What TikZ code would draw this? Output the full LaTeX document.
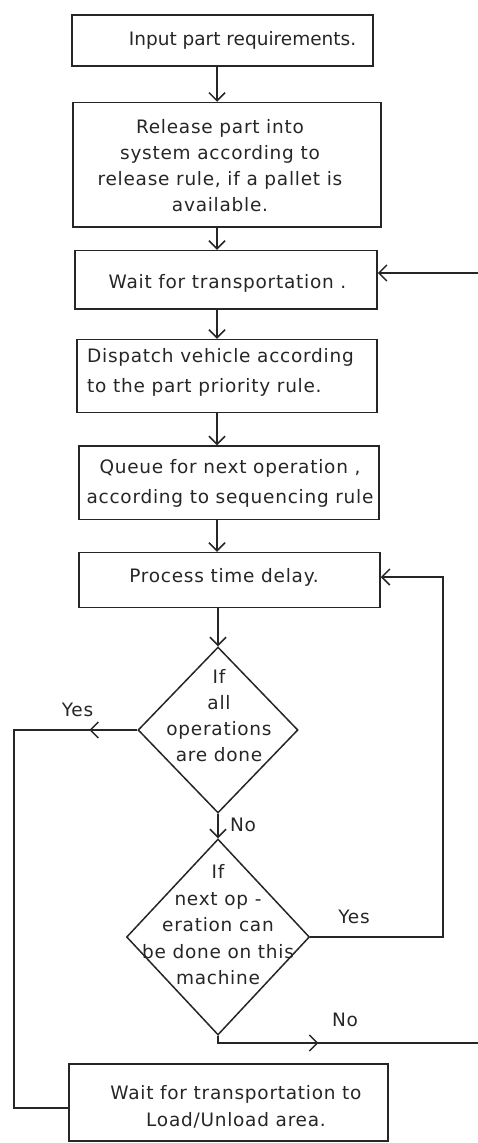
\documentclass[tikz,border=0pt]{standalone}
\usepackage{fontspec}
\setmainfont{DejaVu Sans}[LetterSpace=4]
\usetikzlibrary{shapes.geometric,arrows.meta,decorations.markings}
\definecolor{ink}{RGB}{38,38,38}
\tikzset{
  every node/.style={text=ink},
  txt/.style={align=center, inner sep=0pt, font=\fontsize{18.5pt}{26pt}\selectfont},
  txtwide/.style={txt, font=\fontsize{18.5pt}{30pt}\selectfont},
  box/.style={draw=ink, line width=1.5pt, rectangle, inner sep=0pt},
  dia/.style={draw=ink, line width=1.5pt, diamond, inner sep=0pt},
  conn/.style={draw=ink, line width=1.5pt},
  tip/.style={conn, -{Straight Barb[length=8pt,width=16pt]}},
  midtip/.style={conn, decoration={markings, mark=at position #1 with {\arrow{Straight Barb[length=8pt,width=16pt]}}}, postaction={decorate}},
}
\begin{document}
\begin{tikzpicture}[x=1pt,y=-1pt]
\useasboundingbox (0,0) rectangle (478,1143);
\coordinate (col) at (217,0);
% process boxes
\node[box, minimum width=301pt, minimum height=51pt] (b1) at (222.5,40.5) {};
\node[txt] (t1) at (242.5,40) {\addfontfeature{LetterSpace=0}Input part requirements.};
\node[box, minimum width=308pt, minimum height=124.5pt] (b2) at (227,164.75) {};
\node[txt] (t2) at (220,166) {Release part into\\system according to\\release rule, if a pallet is\\available.};
\node[box, minimum width=302pt, minimum height=58.5pt] (b3) at (226,279.75) {};
\node[txt] (t3) at (227.5,283) {Wait for transportation .};
\node[box, minimum width=300pt, minimum height=73pt] (b4) at (227,376) {};
\node[txtwide, align=left, anchor=west] (t4) at (87,372.5) {Dispatch vehicle according\\to the part priority rule.};
\node[box, minimum width=300pt, minimum height=73.5pt] (b5) at (229,482.75) {};
\node[txtwide] (t5) at (230,483) {Queue for next operation ,\\according to sequencing rule};
\node[box, minimum width=301pt, minimum height=55pt] (b6) at (229.5,580) {};
\node[txt] (t6) at (224,577) {Process time delay.};
% decisions
\node[dia, minimum width=160pt, minimum height=166pt] (d1) at (218,730) {};
\node[txt] (t7) at (219,716) {If\\all\\operations\\are done};
\node[dia, minimum width=183pt, minimum height=196pt] (d2) at (218,937) {};
\node[txt, font=\fontsize{18.5pt}{26.5pt}\selectfont] (t8) at (218,925) {If\\next op -\\eration can\\be done on this\\machine};
% final box
\node[box, minimum width=319pt, minimum height=77pt] (b7) at (228.5,1102.5) {};
\node[txt, font=\fontsize{18.5pt}{27pt}\selectfont] (t9) at (236,1106.5) {Wait for transportation to\\Load/Unload area.};
% branch labels
\node[txt] (yes1) at (77.5,710) {Yes};
\node[txt] (no1) at (243,825) {No};
\node[txt] (yes2) at (354,917) {Yes};
\node[txt] (no2) at (345,1020) {No};
% loose ends
\coordinate (yesC) at (14,1108);
\coordinate (loopC) at (443,577);
\coordinate (noC) at (478,1043);
\coordinate (fbC) at (478,273);
% connectors
\draw[tip] (b1.south -| col) -- (b2.north -| col);
\draw[tip] (b2.south -| col) -- (b3.north -| col);
\draw[tip] (b3.south -| col) -- (b4.north -| col);
\draw[tip] (b4.south -| col) -- (b5.north -| col);
\draw[tip] (b5.south -| col) -- (b6.north -| col);
\draw[tip] (b6.south -| d1.north) -- (d1.north);
\draw[tip] (d1.south) -- (d2.north);
\draw[midtip=0.0862] (d1.west) -- (d1.west -| yesC) -- (yesC) -- (yesC -| b7.west);
\draw[tip] (d2.east) -| (loopC) -- (loopC -| b6.east);
\draw[midtip=0.403] (d2.south) |- (noC);
\draw[tip] (fbC) -- (fbC -| b3.east);
\end{tikzpicture}
\end{document}
